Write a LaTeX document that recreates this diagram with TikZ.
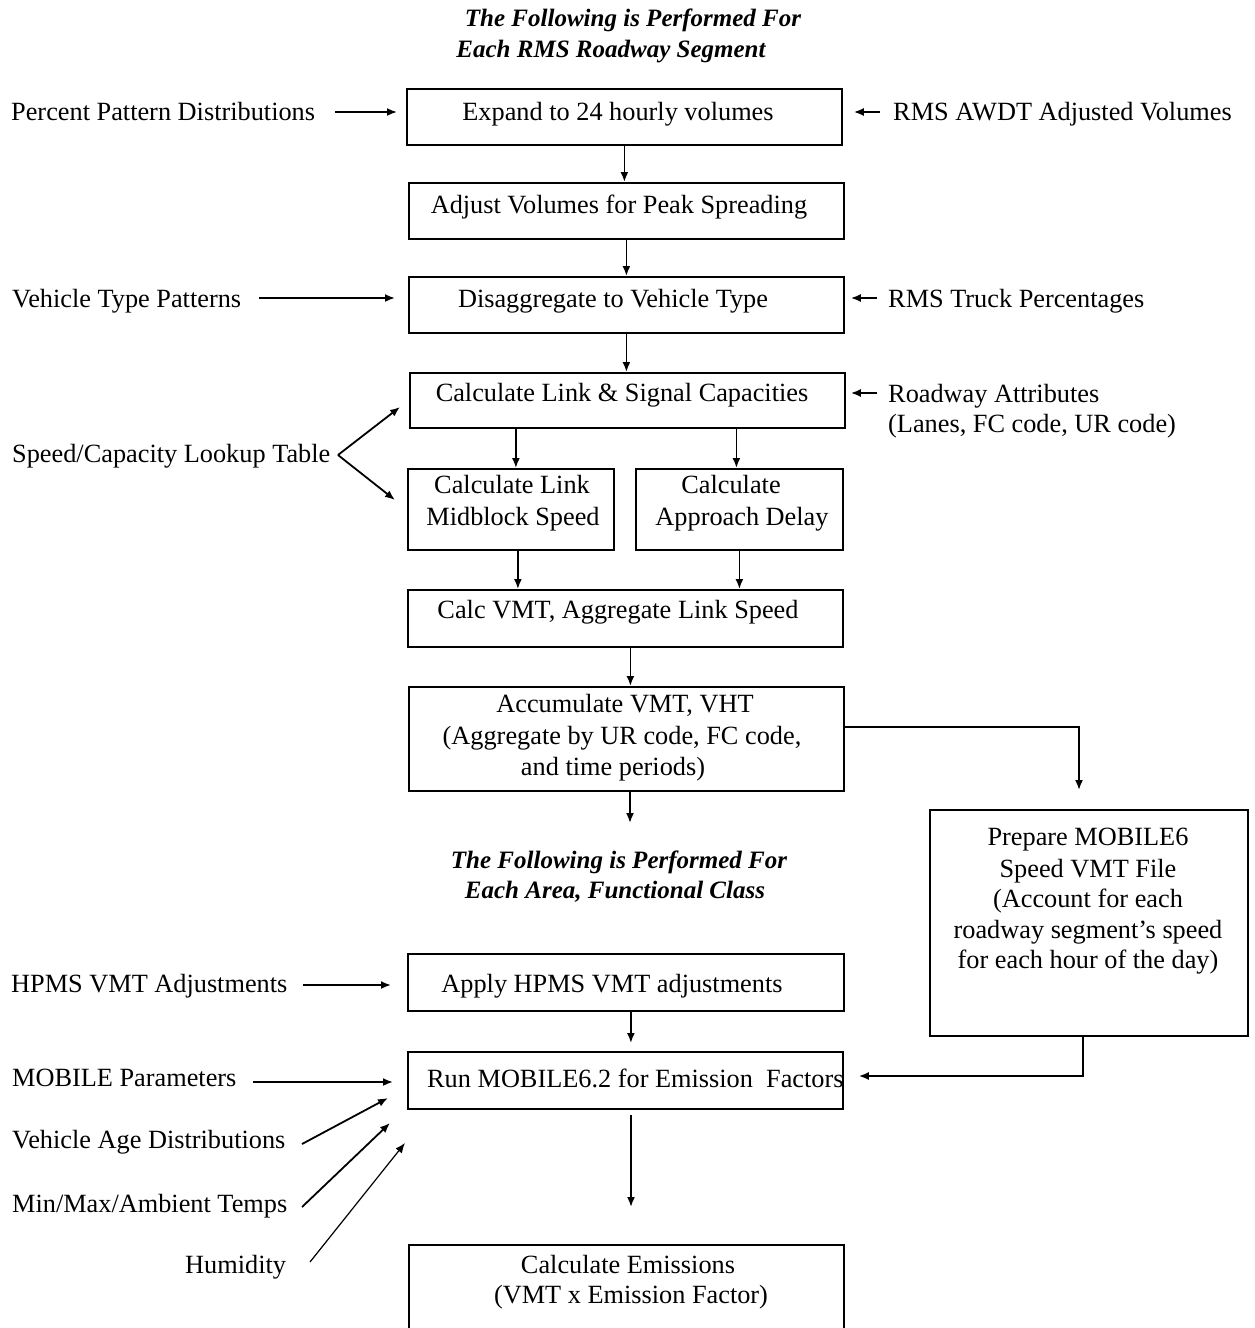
\documentclass[tikz,border=0pt]{standalone}
\usepackage{fontspec}
\setmainfont{Liberation Serif}
\usetikzlibrary{arrows.meta}
\begin{document}
\begin{tikzpicture}[x=1pt,y=-1pt,
  box/.style={draw, line width=1.8pt, inner sep=0pt, anchor=north west},
  tx/.style={anchor=base, inner sep=0pt, font=\fontsize{26.3}{31}\selectfont},
  tl/.style={anchor=base west, inner sep=0pt, font=\fontsize{26.3}{31}\selectfont},
  tt/.style={anchor=base, inner sep=0pt, font=\fontsize{25}{31}\selectfont\bfseries\itshape},
  arr/.style={line width=1.8pt, -{Latex[length=10pt,width=8pt]}},
  thinarr/.style={line width=1.2pt, -{Latex[length=10pt,width=8pt]}}]
\clip (0,0) rectangle (1254,1328);
\fill[white] (0,0) rectangle (1254,1328);

% titles
\node[tt] (t1a) at (633,26) {The Following is Performed For};
\node[tt] (t1b) at (611,57) {Each RMS Roadway Segment};
\node[tt] (t2a) at (619,868) {The Following is Performed For};
\node[tt] (t2b) at (615,898) {Each Area, Functional Class};

% boxes
\node[box, minimum width=435pt, minimum height=56pt] (b1) at (406,88) {};
\node[box, minimum width=435pt, minimum height=56pt] (b2) at (408,182) {};
\node[box, minimum width=435pt, minimum height=56pt] (b3) at (408,276) {};
\node[box, minimum width=435pt, minimum height=55pt] (b4) at (409,372) {};
\node[box, minimum width=206pt, minimum height=81pt] (b5a) at (407,468) {};
\node[box, minimum width=207pt, minimum height=81pt] (b5b) at (635,468) {};
\node[box, minimum width=435pt, minimum height=57pt] (b6) at (407,589) {};
\node[box, minimum width=435pt, minimum height=104pt] (b7) at (408,686) {};
\node[box, minimum width=318pt, minimum height=226pt] (prep) at (929,809) {};
\node[box, minimum width=436pt, minimum height=57pt] (hp) at (407,953) {};
\node[box, minimum width=435pt, minimum height=57pt] (run) at (407,1051) {};
\node[box, minimum width=435pt, minimum height=120pt] (em) at (408,1244) {};

% box texts
\node[tx] (x1) at (618,120) {Expand to 24 hourly volumes};
\node[tx] (x2) at (619,213) {Adjust Volumes for Peak Spreading};
\node[tx] (x3) at (613,307) {Disaggregate to Vehicle Type};
\node[tx] (x4) at (622,401) {Calculate Link \& Signal Capacities};
\node[tx] (x5a1) at (512,493) {Calculate Link};
\node[tx] (x5a2) at (513,525) {Midblock Speed};
\node[tx] (x5b1) at (731,493) {Calculate};
\node[tx] (x5b2) at (742,525) {Approach Delay};
\node[tx] (x6) at (618,618) {Calc VMT, Aggregate Link Speed};
\node[tx] (x7a) at (625,712) {Accumulate VMT, VHT};
\node[tx] (x7b) at (622,744) {(Aggregate by UR code, FC code,};
\node[tx] (x7c) at (613,775) {and time periods)};
\node[tx] (p1) at (1088,845) {Prepare MOBILE6};
\node[tx] (p2) at (1088,877) {Speed VMT File};
\node[tx] (p3) at (1088,907) {(Account for each};
\node[tx] (p4) at (1088,938) {roadway segment's speed};
\node[tx] (p5) at (1088,968) {for each hour of the day)};
\node[tx] (xh) at (612,992) {Apply HPMS VMT adjustments};
\node[tl] (xr) at (427,1087) {Run MOBILE6.2 for Emission\ \ Factors};
\node[tx] (xe1) at (628,1273) {Calculate Emissions};
\node[tx] (xe2) at (631,1303) {(VMT x Emission Factor)};

% left labels
\node[tl] (lpp) at (11,120) {Percent Pattern Distributions};
\node[tl] (lvt) at (12,307) {Vehicle Type Patterns};
\node[tl] (lsc) at (12,462) {Speed/Capacity Lookup Table};
\node[tl] (lhp) at (11,992) {HPMS VMT Adjustments};
\node[tl] (lmp) at (12,1086) {MOBILE Parameters};
\node[tl] (lva) at (12,1148) {Vehicle Age Distributions};
\node[tl] (lmm) at (12,1212) {Min/Max/Ambient Temps};
\node[tl] (lhu) at (185,1273) {Humidity};
% right labels
\node[tl] (rrms) at (893,120) {RMS AWDT Adjusted Volumes};
\node[tl] (rtr) at (888,307) {RMS Truck Percentages};
\node[tl] (rra1) at (888,402) {Roadway Attributes};
\node[tl] (rra2) at (888,432) {(Lanes, FC code, UR code)};

% main flow arrows
\draw[arr] (b1.south) -- (b1.south |- b2.north);
\draw[arr] (b2.south) -- (b2.south |- b3.north);
\draw[arr] (b3.south) -- (b3.south |- b4.north);
\draw[arr] ([xshift=5pt]b5a.north |- b4.south) -- ([xshift=5pt]b5a.north);
\draw[arr] ([xshift=-3pt]b5b.north |- b4.south) -- ([xshift=-3pt]b5b.north);
\draw[arr] ([xshift=7pt]b5a.south) -- ([xshift=7pt]b5a.south |- b6.north);
\draw[arr] (b5b.south) -- (b5b.south |- b6.north);
\draw[arr] ([xshift=5pt]b6.south) -- ([xshift=5pt]b6.south |- b7.north);
\coordinate (c7) at (630,823);
\draw[arr] (b7.south -| c7) -- (c7);
\coordinate (k1) at (1079,727);
\draw[arr, shorten >=19pt] (k1 -| b7.east) -- (k1) -- (k1 |- prep.north);
\coordinate (k2) at (1083,1076);
\draw[arr, shorten >=15pt] (k2 |- prep.south) -- (k2) -- (k2 -| run.east);
\draw[arr, shorten >=8pt] ([xshift=5pt]hp.south) -- ([xshift=5pt]hp.south |- run.north);
\coordinate (c9) at (631,1207);
\draw[arr, shorten <=5pt] (run.south -| c9) -- (c9);

% input arrows
\coordinate (s1) at (335,112);
\draw[arr, shorten >=9pt] (s1) -- (s1 -| b1.west);
\coordinate (s2) at (259,298);
\draw[arr, shorten >=13pt] (s2) -- (s2 -| b3.west);
\coordinate (sc) at (338,455);
\coordinate (sct) at (400,407);
\coordinate (scb) at (395,500);
\draw[arr] (sc) -- (sct);
\draw[arr] (sc) -- (scb);
\coordinate (s3) at (303,985);
\draw[arr, shorten >=16pt] (s3) -- (s3 -| hp.west);
\coordinate (s4) at (253,1082);
\draw[arr, shorten >=14pt] (s4) -- (s4 -| run.west);
\coordinate (va1) at (302,1144);
\coordinate (va2) at (388,1098);
\draw[arr] (va1) -- (va2);
\coordinate (mm1) at (302,1207);
\coordinate (mm2) at (390,1123);
\draw[arr] (mm1) -- (mm2);
\coordinate (hu1) at (310,1262);
\coordinate (hu2) at (405,1143);
\draw[thinarr] (hu1) -- (hu2);

% right input arrows
\coordinate (r1) at (880,112);
\draw[arr, shorten >=11pt] (r1) -- (r1 -| b1.east);
\coordinate (r2) at (877,298);
\draw[arr, shorten >=6pt] (r2) -- (r2 -| b3.east);
\coordinate (r3) at (877,393);
\draw[arr, shorten >=5pt] (r3) -- (r3 -| b4.east);
\end{tikzpicture}
\end{document}
